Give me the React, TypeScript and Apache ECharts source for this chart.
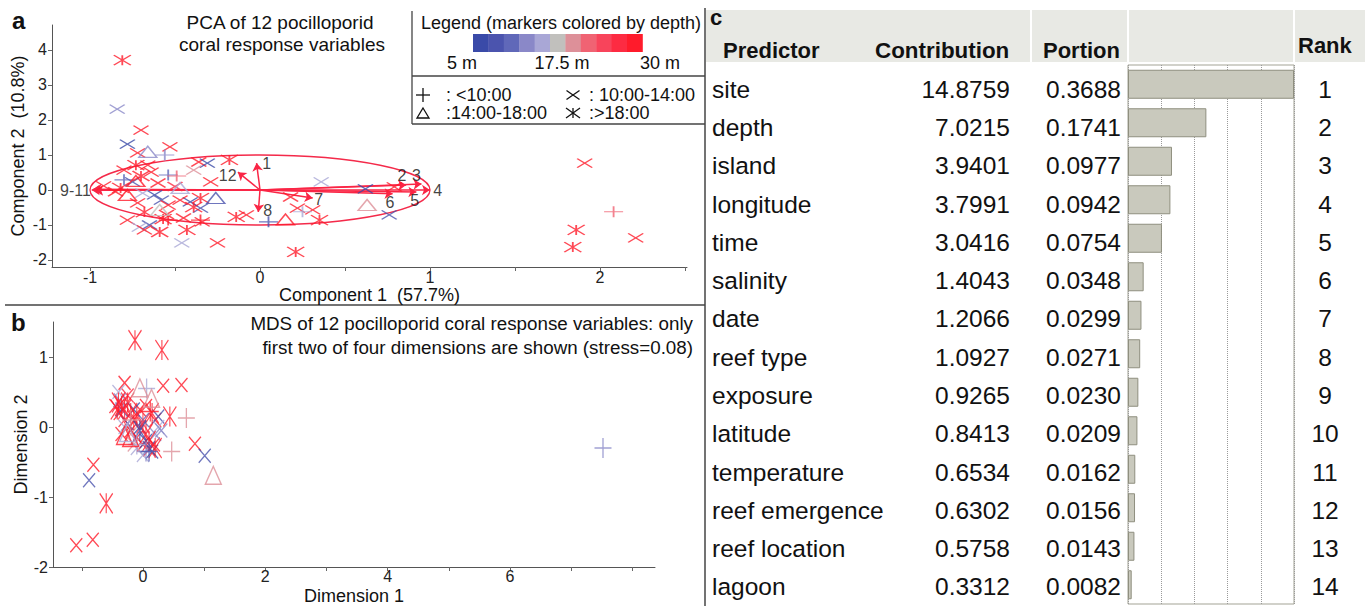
import React, { useEffect, useRef } from 'react';
import * as echarts from 'echarts';

const FONT = '"Liberation Sans", Arial, Helvetica, sans-serif';

// depth colour scale, 5 m -> 30 m in 2.5 m steps
const depthPalette = ['#3a4aa8', '#4b54ae', '#6068b9', '#8a88c8', '#a9a7d6', '#c1c0bd', '#dd9099', '#f06373', '#f8445b', '#fd2b42', '#ff1b2b'];
const depthTickLabels = ['5 m', '17.5 m', '30 m'];
const timeLegendLabels = [': <10:00', ': 10:00-14:00', ':14:00-18:00', ':>18:00'];

// ---------- panel a: PCA scores [PC1, PC2, depth m] ----------
const pcaCross = [
  [-0.89, 4.74, 30], [-0.74, 4.86, 30], [-0.84, 2.31, 12.5], [-0.70, 1.71, 30], [-0.78, 1.31, 5], [-0.53, 1.23, 30], [-0.72, 1.06, 30],
  [-0.66, 0.71, 30], [-0.64, 0.51, 30], [-0.80, 0.57, 30], [-0.36, 0.80, 30], [-0.31, 0.77, 5], [-0.39, 0.57, 20], [-0.29, 0.23, 30],
  [-0.75, 0.23, 7.5], [-0.62, -0.14, 5], [-0.69, -0.09, 15], [-0.58, -0.29, 7.5], [-0.41, -0.34, 5], [-0.35, -0.52, 7.5], [-0.47, -0.29, 30],
  [-0.54, -0.43, 30], [-0.72, -0.37, 30], [-0.78, -0.86, 30], [-0.65, -1.0, 7.5], [-0.71, -1.06, 15], [-0.68, -1.14, 30], [-0.34, -0.91, 30],
  [-0.46, -1.51, 15], [-0.25, -1.51, 30], [-0.08, -0.71, 30], [0.18, -0.2, 30], [0.22, -0.52, 30], [0.31, -0.57, 30], [0.36, 0.23, 15],
  [0.62, 0.03, 5], [0.79, 0.09, 30], [0.76, -0.71, 7.5], [1.91, 0.77, 30], [2.21, -1.37, 30], [-0.92, 0.12, 30], [-0.85, -0.05, 30],
  [-0.55, -0.7, 30], [-0.45, -0.8, 30], [-0.6, 0.2, 30], [-0.5, 0.1, 27.5],
];
const pcaStar = [
  [-0.81, 3.71, 30], [-0.73, 0.71, 30], [-0.18, 0.86, 30], [-0.82, 0.06, 30], [-0.39, -0.49, 30], [-0.68, -0.63, 30], [-0.59, -1.2, 30],
  [-0.43, -1.14, 30], [-0.14, -0.77, 30], [0.35, -0.86, 30], [0.21, -1.77, 30], [1.86, -1.14, 30], [1.84, -1.63, 30], [-0.57, -0.83, 30],
  [-0.35, -0.23, 30], [-0.7, 0.4, 30],
];
const pcaPlus = [
  [-0.56, 1.0, 12.5], [-0.54, 0.43, 10], [-0.49, 0.40, 22.5], [-0.80, 0.29, 10], [-0.54, -0.86, 30], [-0.35, -0.86, 30], [0.05, -0.91, 7.5],
  [0.25, -0.62, 15], [2.08, -0.62, 22.5],
];
const pcaTri = [
  [-0.66, 1.09, 12.5], [-0.73, 0.26, 30], [-0.78, -0.14, 30], [-0.47, 0.06, 15], [-0.26, -0.23, 7.5], [-0.59, -0.57, 17.5], [0.15, -0.84, 30],
  [0.63, -0.43, 20],
];

// loadings of the 12 response variables
const loadingPC1 = [-0.02, 0.86, 0.95, 1.0, 0.92, 0.78, 0.31, -0.01, -0.98, -0.97, -0.99, -0.13];
const loadingPC2 = [0.77, 0.14, 0.17, 0.0, -0.06, -0.11, -0.23, -0.63, 0.02, -0.01, 0.0, 0.51];
const loadingLabels = ['1', '2', '3', '4', '5', '6', '7', '8', '9-11', '12'];
const loadingLabelPC1 = [0.04, 0.835, 0.92, 1.045, 0.91, 0.765, 0.345, 0.045, -1.085, -0.19];
const loadingLabelPC2 = [0.77, 0.42, 0.42, -0.02, -0.3, -0.35, -0.26, -0.6, -0.01, 0.4];
const correlationCircle = [[0, 0, 1, 1]];

// ---------- panel b: MDS [dim1, dim2, depth m] ----------
const mdsCross = [
  [-0.30, 0.63, 30], [0.33, 0.59, 30], [0.63, 0.60, 30], [0.85, -0.24, 30], [1.01, -0.41, 7.5], [-0.81, -0.54, 30], [-0.88, -0.76, 7.5],
  [-0.82, -1.61, 30], [-1.09, -1.69, 30], [-0.45, 0.30, 30], [-0.38, 0.20, 30], [-0.30, 0.10, 27.5], [-0.20, -0.05, 30], [-0.10, -0.15, 30],
  [0.00, -0.25, 30], [0.10, -0.32, 27.5], [-0.05, 0.25, 30], [0.05, 0.30, 30], [0.20, 0.10, 30], [-0.25, 0.45, 27.5], [-0.35, -0.10, 30],
  [0.18, -0.25, 30], [-0.15, 0.25, 5], [-0.05, 0.0, 5], [0.05, -0.2, 5], [0.10, -0.30, 7.5], [0.15, -0.35, 5], [-0.25, 0.05, 7.5],
  [0.0, 0.10, 10], [0.25, 0.15, 7.5], [-0.35, 0.25, 7.5], [-0.40, 0.50, 15], [-0.30, 0.0, 15], [0.25, 0.0, 15], [0.30, -0.05, 12.5],
  [-0.10, -0.30, 15], [0.0, -0.40, 15], [-0.38, 0.38, 12.5], [0.2, -0.1, 12.5], [-0.2, -0.1, 20], [-0.15, -0.25, 20],
];
const mdsStar = [
  [-0.13, 1.24, 30], [0.31, 1.10, 30], [0.44, 0.15, 30], [-0.60, -1.09, 30], [-0.40, 0.35, 30], [-0.35, 0.30, 30], [-0.30, 0.25, 27.5],
  [-0.25, 0.35, 30], [-0.2, 0.2, 30], [-0.15, 0.1, 30], [-0.1, 0.15, 30], [0.0, 0.05, 27.5], [0.05, -0.1, 30], [0.1, -0.2, 30],
  [0.2, -0.3, 30], [0.15, 0.2, 30], [-0.42, 0.25, 30], [-0.05, -0.05, 5],
];
const mdsPlus = [
  [0.06, 0.55, 15], [0.71, 0.13, 20], [0.47, -0.35, 20], [7.52, -0.30, 12.5], [-0.1, -0.25, 15], [0.05, -0.35, 12.5], [0.1, -0.35, 7.5],
  [-0.2, 0.1, 20], [0.12, 0.22, 30],
];
const mdsTri = [
  [-0.05, 0.56, 20], [0.14, 0.41, 20], [1.15, -0.69, 20], [-0.30, -0.12, 30], [-0.2, -0.15, 30], [-0.25, -0.08, 15],
];

// ---------- panel c: predictor table ----------
const predictors = ['site', 'depth', 'island', 'longitude', 'time', 'salinity', 'date', 'reef type', 'exposure', 'latitude', 'temperature', 'reef emergence', 'reef location', 'lagoon'];
const contributions = [14.8759, 7.0215, 3.9401, 3.7991, 3.0416, 1.4043, 1.2066, 1.0927, 0.9265, 0.8413, 0.6534, 0.6302, 0.5758, 0.3312];
const portions = [0.3688, 0.1741, 0.0977, 0.0942, 0.0754, 0.0348, 0.0299, 0.0271, 0.0230, 0.0209, 0.0162, 0.0156, 0.0143, 0.0082];
const ranks = [1, 2, 3, 4, 5, 6, 7, 8, 9, 10, 11, 12, 13, 14];
const tableHeaders = ['Predictor', 'Contribution', 'Portion', 'Rank'];

const SYM_PLUS = 'path://M0 5L10 5M5 0L5 10';
const SYM_CROSS = 'path://M0 0L10 10M10 0L0 10';
const SYM_STAR = 'path://M0 0L10 10M10 0L0 10M5 0L5 10';
const SYM_TRI = 'path://M5 0L10 10L0 10Z';

function depthColor(d: number) {
  const i = Math.max(0, Math.min(10, Math.round((d - 5) / 2.5)));
  return depthPalette[i];
}

function markerSeries(pts: number[][], symbol: string, size: number[], axisIndex: number) {
  return {
    type: 'scatter',
    xAxisIndex: axisIndex,
    yAxisIndex: axisIndex,
    symbol,
    symbolSize: size,
    silent: true,
    data: pts.map((p) => ({
      value: [p[0], p[1]],
      itemStyle: { color: 'rgba(0,0,0,0)', borderColor: depthColor(p[2]), borderWidth: 1.4 },
    })),
  };
}

function txt(text: string, x: number, y: number, size: number, o: any = {}) {
  return {
    type: 'text', x, y, silent: true,
    style: {
      text, fontSize: size, fontFamily: FONT, fontWeight: o.bold ? 'bold' : 'normal',
      fill: o.color || '#111', align: o.align || 'left', verticalAlign: 'middle',
    },
  };
}

function seg(x1: number, y1: number, x2: number, y2: number, color = '#111', w = 1.3) {
  return { type: 'line', silent: true, shape: { x1, y1, x2, y2 }, style: { stroke: color, lineWidth: w } };
}

function glyph(kind: string, cx: number, cy: number, w: number, h: number) {
  const c = '#111';
  if (kind === 'plus') return [seg(cx - w / 2, cy, cx + w / 2, cy, c), seg(cx, cy - h / 2, cx, cy + h / 2, c)];
  if (kind === 'cross') return [seg(cx - w / 2, cy - h / 2, cx + w / 2, cy + h / 2, c), seg(cx - w / 2, cy + h / 2, cx + w / 2, cy - h / 2, c)];
  if (kind === 'star') return [seg(cx - w / 2, cy - h / 2, cx + w / 2, cy + h / 2, c), seg(cx - w / 2, cy + h / 2, cx + w / 2, cy - h / 2, c), seg(cx, cy - h / 2, cx, cy + h / 2, c)];
  return [{ type: 'polygon', silent: true, shape: { points: [[cx, cy - h / 2], [cx + w / 2, cy + h / 2], [cx - w / 2, cy + h / 2]] }, style: { fill: 'none', stroke: c, lineWidth: 1.3 } }];
}

const axisCommon = {
  axisLine: { show: true, onZero: false, lineStyle: { color: '#555', width: 1 } },
  axisTick: { show: true, length: 4, lineStyle: { color: '#666' } },
  splitLine: { show: false },
  nameLocation: 'middle',
  nameTextStyle: { fontSize: 18, color: '#111', fontFamily: FONT },
};

export default function App() {
  const ref = useRef<HTMLDivElement>(null);
  useEffect(() => {
    document.body.style.margin = '0';
    const chart = echarts.init(ref.current!, null, { renderer: 'svg' });
    const pMax = Math.max(...portions);

    const graphics: any[] = [];
    // panel separators
    graphics.push(seg(5, 305, 705, 305, '#444', 1.5));
    graphics.push(seg(705, 8, 705, 606, '#444', 1.5));
    // panel letters and titles
    graphics.push(txt('a', 12, 20, 24, { bold: true }));
    graphics.push(txt('PCA of 12 pocilloporid', 280, 22, 19, { align: 'center' }));
    graphics.push(txt('coral response variables', 282, 44, 19, { align: 'center' }));
    graphics.push(txt('b', 11, 322, 24, { bold: true }));
    graphics.push(txt('MDS of 12 pocilloporid coral response variables: only', 693, 323, 18.8, { align: 'right' }));
    graphics.push(txt('first two of four dimensions are shown (stress=0.08)', 693, 347, 18.8, { align: 'right' }));
    // legend box
    graphics.push(seg(412, 11, 412, 124, '#444', 1.3));
    graphics.push(seg(412, 76, 705, 76, '#444', 1.3));
    graphics.push(seg(412, 124, 705, 124, '#444', 1.3));
    graphics.push(txt('Legend (markers colored by depth)', 561, 23, 18, { align: 'center' }));
    depthPalette.forEach((c, i) => {
      graphics.push({ type: 'rect', silent: true, shape: { x: 473 + i * 15.4, y: 34, width: 15.8, height: 18 }, style: { fill: c } });
    });
    graphics.push(txt(depthTickLabels[0], 462, 63, 18, { align: 'center' }));
    graphics.push(txt(depthTickLabels[1], 562, 63, 18, { align: 'center' }));
    graphics.push(txt(depthTickLabels[2], 660, 63, 18, { align: 'center' }));
    graphics.push(...glyph('plus', 423, 95, 14, 14));
    graphics.push(txt(timeLegendLabels[0], 446, 95, 18));
    graphics.push(...glyph('cross', 573, 95, 13, 9));
    graphics.push(txt(timeLegendLabels[1], 589, 95, 18));
    graphics.push(...glyph('tri', 423, 113, 12, 10));
    graphics.push(txt(timeLegendLabels[2], 446, 113, 18));
    graphics.push(...glyph('star', 573, 113, 14, 10));
    graphics.push(txt(timeLegendLabels[3], 589, 113, 18));
    // table header
    [[706, 1030], [1032, 1127], [1129, 1293], [1295, 1365]].forEach(([a, b]) => {
      graphics.push({ type: 'rect', silent: true, shape: { x: a, y: 10, width: b - a, height: 52 }, style: { fill: '#e8e9e4' } });
    });
    graphics.push(txt('c', 710, 17, 22, { bold: true }));
    graphics.push(txt(tableHeaders[0], 723, 50, 22, { bold: true }));
    graphics.push(txt(tableHeaders[1], 875, 50, 22.4, { bold: true }));
    graphics.push(txt(tableHeaders[2], 1043, 50, 22, { bold: true }));
    graphics.push(txt(tableHeaders[3], 1298, 45, 22, { bold: true }));

    const catAxis = (data: string[], position: string, margin: number, align: string) => ({
      gridIndex: 3, type: 'category', inverse: true, data, position, offset: 0,
      axisLine: { show: false }, axisTick: { show: false }, splitLine: { show: false },
      axisLabel: { interval: 0, margin, align, fontSize: 24.5, color: '#111', fontFamily: FONT },
    });

    const option: any = {
      animation: false,
      backgroundColor: '#fff',
      textStyle: { fontFamily: FONT },
      grid: [
        { left: 52, top: 25, width: 635, height: 242 },
        { left: 53, top: 322, width: 602, height: 245 },
        { left: 1128, top: 65, width: 166, height: 539, show: true, borderColor: '#a3a395', borderWidth: 1, backgroundColor: 'transparent' },
        { left: 1128, top: 70, width: 166, height: 539 },
      ],
      xAxis: [
        {
          ...axisCommon, gridIndex: 0, type: 'value', min: -1.2235, max: 2.5118,
          name: 'Component 1  (57.7%)', nameGap: 18,
          axisTick: { ...axisCommon.axisTick, customValues: [-1, -0.5, 0, 0.5, 1, 1.5, 2, 2.5] },
          axisLabel: { customValues: [-1, 0, 1, 2], fontSize: 16, color: '#222', margin: 2, fontFamily: FONT },
        },
        {
          ...axisCommon, gridIndex: 1, type: 'value', min: -1.47, max: 8.37,
          name: 'Dimension 1', nameGap: 20,
          axisTick: { ...axisCommon.axisTick, customValues: [-1, 0, 1, 2, 3, 4, 5, 6, 7, 8] },
          axisLabel: { customValues: [0, 2, 4, 6], fontSize: 16, color: '#222', margin: 1, fontFamily: FONT },
        },
        {
          gridIndex: 2, type: 'value', min: 0, max: pMax, interval: pMax / 5,
          axisLine: { show: false }, axisTick: { show: false }, axisLabel: { show: false },
          splitLine: { show: true, lineStyle: { type: 'dotted', color: '#9a9a9a', width: 1 } },
        },
        {
          gridIndex: 3, type: 'value', min: 0, max: 1, show: false,
        },
      ],
      yAxis: [
        {
          ...axisCommon, gridIndex: 0, type: 'value', min: -2.2, max: 4.714,
          name: 'Component 2  (10.8%)', nameGap: 25,
          axisTick: { ...axisCommon.axisTick, customValues: [-2, -1, 0, 1, 2, 3, 4] },
          axisLabel: { customValues: [-2, -1, 0, 1, 2, 3, 4], fontSize: 16, color: '#222', margin: 5, fontFamily: FONT },
        },
        {
          ...axisCommon, gridIndex: 1, type: 'value', min: -2, max: 1.5,
          name: 'Dimension 2', nameGap: 22,
          axisTick: { ...axisCommon.axisTick, customValues: [-2, -1, 0, 1] },
          axisLabel: { customValues: [-2, -1, 0, 1], fontSize: 16, color: '#222', margin: 5, fontFamily: FONT },
        },
        {
          gridIndex: 2, type: 'category', inverse: true, data: predictors, show: false,
        },
        catAxis(predictors, 'left', 416, 'left'),
        catAxis(contributions.map((v) => v.toFixed(4)), 'left', 118, 'right'),
        catAxis(portions.map((v) => v.toFixed(4)), 'left', 7, 'right'),
        catAxis(ranks.map(String), 'right', 31, 'center'),
      ],
      series: [
        {
          type: 'custom', xAxisIndex: 0, yAxisIndex: 0, silent: true, clip: false,
          data: correlationCircle,
          renderItem: (_p: any, api: any) => {
            const c = api.coord([api.value(0), api.value(1)]);
            const ex = api.coord([api.value(0) + api.value(2), api.value(1)]);
            const ey = api.coord([api.value(0), api.value(1) + api.value(3)]);
            return {
              type: 'ellipse',
              shape: { cx: c[0], cy: c[1], rx: ex[0] - c[0], ry: c[1] - ey[1] },
              style: { fill: 'none', stroke: '#f42a4a', lineWidth: 1.3 },
            };
          },
        },
        markerSeries(pcaCross, SYM_CROSS, [15, 9], 0),
        markerSeries(pcaStar, SYM_STAR, [17, 10], 0),
        markerSeries(pcaPlus, SYM_PLUS, [19, 11], 0),
        markerSeries(pcaTri, SYM_TRI, [18, 11], 0),
        {
          type: 'lines', coordinateSystem: 'cartesian2d', xAxisIndex: 0, yAxisIndex: 0, silent: true,
          symbol: ['none', 'arrow'], symbolSize: 8,
          lineStyle: { color: '#fa2545', width: 1.5, opacity: 1 },
          data: loadingPC1.map((x, i) => ({ coords: [[0, 0], [x, loadingPC2[i]]] })),
        },
        {
          type: 'scatter', xAxisIndex: 0, yAxisIndex: 0, silent: true, symbol: 'circle', symbolSize: 1,
          itemStyle: { color: 'rgba(0,0,0,0)' },
          label: { show: true, position: 'inside', formatter: '{b}', fontSize: 16, color: '#111', fontFamily: FONT },
          data: loadingLabels.map((n, i) => ({ name: n, value: [loadingLabelPC1[i], loadingLabelPC2[i]] })),
        },
        markerSeries(mdsCross, SYM_CROSS, [12, 14], 1),
        markerSeries(mdsStar, SYM_STAR, [13, 20], 1),
        markerSeries(mdsPlus, SYM_PLUS, [17, 20], 1),
        markerSeries(mdsTri, SYM_TRI, [16, 18], 1),
        {
          type: 'bar', xAxisIndex: 2, yAxisIndex: 2, silent: true, barWidth: 29,
          itemStyle: { color: '#c9c9bd', borderColor: '#8f8f7f', borderWidth: 1 },
          data: portions,
        },
      ],
      graphic: graphics,
    };
    chart.setOption(option);
    return () => chart.dispose();
  }, []);
  return <div ref={ref} style={{ width: 1365, height: 606 }} />;
}
